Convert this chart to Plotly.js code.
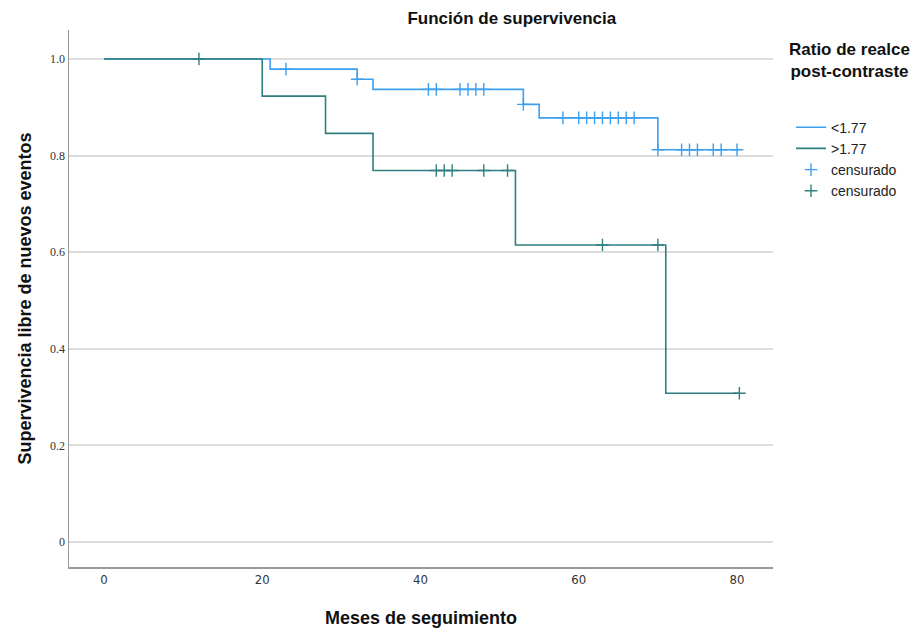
<!DOCTYPE html>
<html><head><meta charset="utf-8">
<script src="https://cdn.plot.ly/plotly-3.0.1.min.js"></script>
<style>body{margin:0;background:#fff}#chart{width:921px;height:632px}</style>
</head><body><div id="chart"></div>
<script>
// Step curve <1.77
const lowTime = [0, 21, 32, 34, 53, 55, 70, 80.2];
const lowSurv = [1.0, 0.979, 0.958, 0.937, 0.906, 0.878, 0.812, 0.812];
const lowCensTime = [23, 32, 41, 42, 45, 46, 47, 48, 53, 58, 60, 61, 62, 63, 64, 65, 66, 67, 70, 73, 74, 75, 77, 78, 80];
const lowCensSurv = [0.979, 0.958, 0.937, 0.937, 0.937, 0.937, 0.937, 0.937, 0.906, 0.878, 0.878, 0.878, 0.878, 0.878, 0.878, 0.878, 0.878, 0.878, 0.812, 0.812, 0.812, 0.812, 0.812, 0.812, 0.812];
// Step curve >1.77
const highTime = [0, 20, 28, 34, 52, 71, 80.3];
const highSurv = [1.0, 0.923, 0.846, 0.769, 0.615, 0.308, 0.308];
const highCensTime = [12, 42, 43, 44, 48, 51, 63, 70, 80.3];
const highCensSurv = [1.0, 0.769, 0.769, 0.769, 0.769, 0.769, 0.615, 0.615, 0.308];

const yTicks = [0, 0.2, 0.4, 0.6, 0.8, 1.0];
const yTickText = ['0', '0.2', '0.4', '0.6', '0.8', '1.0'];
const xTicks = [0, 20, 40, 60, 80];

const blue = '#3d9fef';
const green = '#2f7f80';

const traces = [
  {x: lowTime, y: lowSurv, mode: 'lines', line: {shape: 'hv', color: blue, width: 1.6}, name: '<1.77'},
  {x: highTime, y: highSurv, mode: 'lines', line: {shape: 'hv', color: green, width: 1.6}, name: '>1.77'},
  {x: lowCensTime, y: lowCensSurv, mode: 'markers', marker: {symbol: 'cross-thin-open', size: 9, color: blue, line: {color: blue, width: 1.4}}, name: 'censurado'},
  {x: highCensTime, y: highCensSurv, mode: 'markers', marker: {symbol: 'cross-thin-open', size: 9, color: green, line: {color: green, width: 1.4}}, name: 'censurado'}
];

const layout = {
  width: 921, height: 632,
  margin: {l: 69, r: 148, t: 30, b: 65},
  paper_bgcolor: '#fff', plot_bgcolor: '#fff',
  title: {text: '<b>Función de supervivencia</b>', font: {family: 'Liberation Sans, Arial', size: 17, color: '#111'},
          xref: 'paper', x: 0.629, xanchor: 'center', yref: 'container', y: 0.972, yanchor: 'middle'},
  xaxis: {range: [-4.42, 84.55], tickvals: xTicks, showgrid: false, zeroline: false,
          showline: true, linecolor: '#999', linewidth: 1.5, ticks: '',
          tickfont: {family: 'Liberation Sans Narrow, DejaVu Sans Condensed, Arial Narrow', size: 13, color: '#333'},
          title: {text: '<b>Meses de seguimiento</b>', font: {family: 'Liberation Sans, Arial', size: 18, color: '#111'}, standoff: 25},
          automargin: false},
  yaxis: {range: [-0.0518, 1.06], tickvals: yTicks, ticktext: yTickText, showgrid: true, gridcolor: '#dcdcdc', gridwidth: 2,
          zeroline: false, showline: true, linecolor: '#999', linewidth: 1.5, ticks: '',
          tickfont: {family: 'Liberation Serif, Times New Roman', size: 12, color: '#333'},
          title: {text: '<b>Supervivencia libre de nuevos eventos</b>', font: {family: 'Liberation Sans, Arial', size: 18, color: '#111'}, standoff: 14},
          automargin: false},
  showlegend: true,
  legend: {x: 1.0256, xanchor: 'left', y: 0.848, yanchor: 'top', bgcolor: 'rgba(0,0,0,0)',
           font: {family: 'Liberation Sans, Arial', size: 14, color: '#222'},
           tracegroupgap: 0, itemwidth: 30},
  annotations: [{text: '<b>Ratio de realce<br>post-contraste</b>', xref: 'paper', yref: 'paper',
                 x: (849 - 69) / 704, y: (567 - 60) / 537, xanchor: 'center', yanchor: 'middle', showarrow: false,
                 align: 'center', font: {family: 'Liberation Sans, Arial', size: 17, color: '#111'}}]
};

Plotly.newPlot('chart', traces, layout, {displayModeBar: false, staticPlot: true});
</script>
</body></html>
